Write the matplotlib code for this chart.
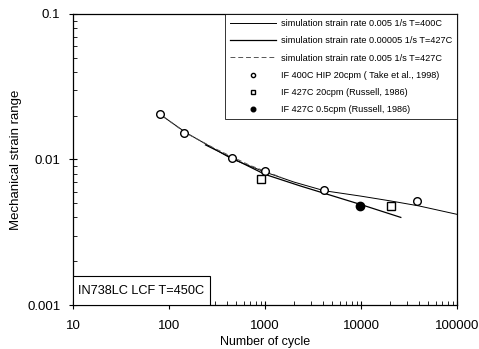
import numpy as np
import matplotlib
matplotlib.use("Agg")
import matplotlib.pyplot as plt
from matplotlib.patches import Rectangle
from matplotlib.ticker import LogLocator, FixedLocator, NullFormatter

plt.rcParams['font.family'] = ['Liberation Sans', 'DejaVu Sans']

# simulation curves
n_sim_400 = [80, 150, 450, 1000, 2000, 4150, 10000, 20000, 40000, 100000]
e_sim_400 = [0.0205, 0.0153, 0.0101, 0.0082, 0.0070, 0.0061, 0.0056, 0.0052,
             0.0048, 0.0042]

n_sim_427_slow = [240, 1000, 2300, 10000, 26000]
e_sim_427_slow = [0.0126, 0.0079, 0.0066, 0.0049, 0.0040]

n_sim_427_fast = [75, 150, 300, 700, 1500]
e_sim_427_fast = [0.0212, 0.0152, 0.0119, 0.0091, 0.0075]

# experiments
n_take = [80, 144, 450, 1000, 4150, 38600]
e_take = [0.0204, 0.0153, 0.0102, 0.0083, 0.0062, 0.0052]

n_russ20 = [900, 20400]
e_russ20 = [0.0073, 0.0048]

n_russ05 = [9800]
e_russ05 = [0.0048]

fig = plt.figure(figsize=(4.79, 3.49), dpi=100)
ax = fig.add_axes([0.1524, 0.126, 0.8016, 0.834])

ax.plot(n_sim_400, e_sim_400, '-', color='black', lw=0.7,
        label='simulation strain rate 0.005 1/s T=400C')
ax.plot(n_sim_427_slow, e_sim_427_slow, '-', color='black', lw=0.9,
        label='simulation strain rate 0.00005 1/s T=427C')
ax.plot(n_sim_427_fast, e_sim_427_fast, '--', color='#555555', lw=0.7,
        dashes=(5, 3), label='simulation strain rate 0.005 1/s T=427C')
ax.plot(n_take, e_take, 'o', mfc='white', mec='black', ms=5.5, mew=1.0,
        label='IF 400C HIP 20cpm ( Take et al., 1998)')
ax.plot(n_russ20, e_russ20, 's', mfc='white', mec='black', ms=5.5, mew=1.0,
        label='IF 427C 20cpm (Russell, 1986)')
ax.plot(n_russ05, e_russ05, 'o', color='black', ms=6,
        label='IF 427C 0.5cpm (Russell, 1986)')

ax.set_xscale('log')
ax.set_yscale('log')
ax.set_xlim(10, 100000)
ax.set_ylim(0.001, 0.1)

ax.xaxis.set_major_locator(FixedLocator([10, 100, 1000, 10000, 100000]))
ax.set_xticklabels(['10', '100', '1000', '10000', '100000'])
ax.yaxis.set_major_locator(FixedLocator([0.001, 0.01, 0.1]))
ax.set_yticklabels(['0.001', '0.01', '0.1'])
ax.xaxis.set_minor_locator(LogLocator(base=10, subs=np.arange(2, 10)))
ax.yaxis.set_minor_locator(LogLocator(base=10, subs=np.arange(2, 10)))
ax.xaxis.set_minor_formatter(NullFormatter())
ax.yaxis.set_minor_formatter(NullFormatter())
ax.tick_params(which='major', direction='inout', length=6, width=0.8,
               labelsize=9.5, pad=6)
ax.tick_params(which='minor', direction='in', length=3, width=0.6)
ax.tick_params(axis='x', which='major', pad=8)

for s in ax.spines.values():
    s.set_linewidth(0.9)

ax.set_xlabel('Number of cycle', fontsize=9, labelpad=3)
ax.set_ylabel('Mechanical strain range', fontsize=9.5, labelpad=4)

leg = ax.legend(loc='upper right', fontsize=6.6, frameon=True, fancybox=False,
                edgecolor='black', handlelength=5.0, handletextpad=0.5,
                labelspacing=0.9, borderaxespad=0.0, borderpad=0.55,
                markerscale=0.55)
leg.get_frame().set_linewidth(0.7)

# inset label box in the lower left corner
ax.add_patch(Rectangle((0, 0), 0.357, 0.1, transform=ax.transAxes,
                       fc='white', ec='black', lw=0.8, zorder=3))
ax.text(0.013, 0.048, 'IN738LC LCF T=450C', transform=ax.transAxes,
        fontsize=9.2, va='center', ha='left', zorder=4)

fig.savefig('out.png', dpi=100)
